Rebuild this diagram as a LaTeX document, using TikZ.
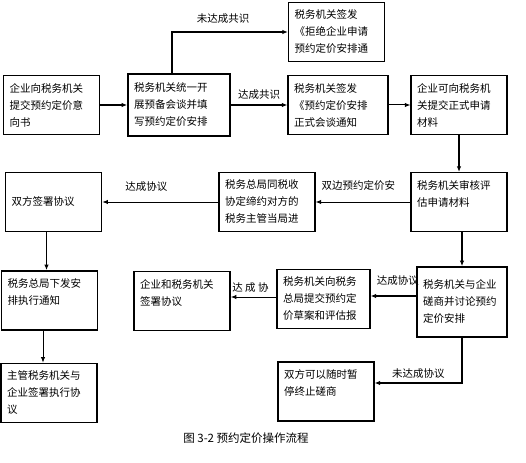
\documentclass[tikz,border=0pt]{standalone}
\usepackage{fontspec}
\newfontfamily\cjkfont{Noto Sans CJK SC}
\usepackage{tikz}
\usetikzlibrary{arrows.meta,positioning}
\newcommand{\boxfont}{\cjkfont\fontsize{10.5}{17}\selectfont}
\tikzset{
  stepbox/.style={draw=black,line width=1.1pt,fill=white,minimum width=96pt,minimum height=59pt,text width=84pt,inner xsep=6pt,inner ysep=2pt,align=left,font=\boxfont},
  boldbox/.style={stepbox,line width=1.6pt},
  arr/.style={-{Latex[length=2mm,width=1.6mm]},line width=1pt,draw=black},
  boldarr/.style={arr,line width=1.6pt},
  lbl/.style={font=\boxfont,inner sep=1pt}
}
\begin{document}
\begin{tikzpicture}[x=1pt,y=-1pt]
  \useasboundingbox (0,0) rectangle (526,462);
  \fill[white] (0,0) rectangle (526,462);
  % first row
  \node[boldbox] (apply) at (51.5,105) {企业向税务机关\\提交预约定价意\\向书};
  \node[boldbox,minimum width=102pt,text width=90pt,minimum height=62pt] (premeet) at (179,105) {税务机关统一开\\展预备会谈并填\\写预约定价安排};
  \node[stepbox] (reject) at (336.5,32) {税务机关签发\\《拒绝企业申请\\预约定价安排通};
  \node[stepbox,minimum width=100pt,text width=88pt] (notice) at (338,105) {税务机关签发\\《预约定价安排\\正式会谈通知};
  \node[stepbox] (formal) at (459,105) {企业可向税务机\\关提交正式申请\\材料};
  % second row
  \node[stepbox] (review) at (459,202) {税务机关审核评\\估申请材料\\~};
  \node[stepbox] (bilateral) at (267,202) {税务总局同税收\\协定缔约对方的\\税务主管当局进};
  \node[boldbox] (sign) at (53.5,202) {双方签署协议};
  % third row
  \node[boldbox] (execnote) at (49.5,300.5) {税务总局下发安\\排执行通知\\~};
  \node[boldbox] (unisign) at (182,301) {企业和税务机关\\签署协议\\~};
  \node[stepbox,minimum width=93pt,text width=81pt] (draft) at (323.5,299) {税务机关向税务\\总局提交预约定\\价草案和评估报};
  \node[boldbox,minimum width=90pt,text width=78pt,minimum height=70pt] (consult) at (462,302) {税务机关与企业\\磋商并讨论预约\\定价安排};
  % last row
  \node[stepbox] (suspend) at (326,391.5) {双方可以随时暂\\停终止磋商\\~};
  \node[boldbox] (execsign) at (49,393) {主管税务机关与\\企业签署执行协\\议};
  \node[font=\cjkfont\fontsize{11.5}{13}\selectfont] (caption) at (246,438) {图\ 3-2\ 预约定价操作流程};
  % connectors
  \draw[boldarr] (apply) -- (premeet);
  \draw[boldarr] ([xshift=-7pt]premeet.north) |- node[lbl,above=7pt,pos=0.72] {未达成共识} (reject.west);
  \draw[boldarr] (premeet) -- node[lbl,above=4pt] {达成共识} (notice);
  \draw[arr] (notice) -- (formal);
  \draw[boldarr] (formal) -- (review);
  \draw[arr] (review) -- node[lbl,above=10pt,pos=0.55] {双边预约定价安} (bilateral);
  \draw[arr] (bilateral) -- node[lbl,above=9pt,pos=0.62] {达成协议} (sign);
  \draw[boldarr] ([xshift=-7pt]sign.south) -- ([xshift=-3pt]execnote.north);
  \draw[arr] ([xshift=-6.5pt]execnote.south) -- ([xshift=-6pt]execsign.north);
  \draw[boldarr] ([xshift=3pt]review.south) -- (consult.north);
  \draw[boldarr] ([yshift=6pt]consult.west) -- node[lbl,above=9pt,pos=0.4] {达成协议} ([yshift=3pt]draft.east);
  \draw[arr] ([yshift=2pt]draft.west) -- node[lbl,above=3pt,pos=0.57] {达\ 成\ 协} ([yshift=4pt]unisign.east);
  \draw[boldarr] (consult.south) |- node[lbl,above=3pt,pos=0.75] {未达成协议} ([yshift=8.5pt]suspend.east);
\end{tikzpicture}
\end{document}
